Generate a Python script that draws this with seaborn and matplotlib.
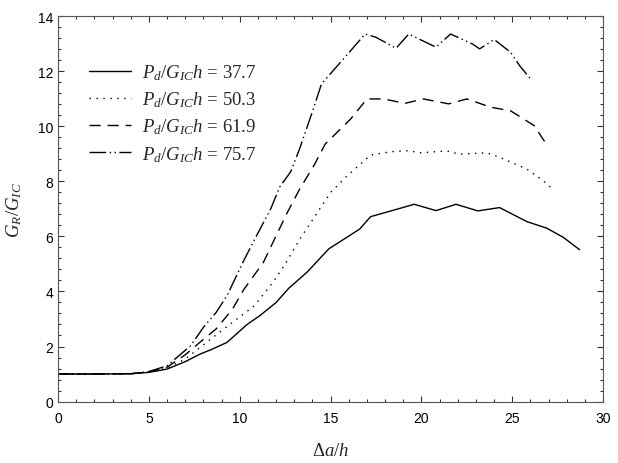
import matplotlib
matplotlib.use("Agg")
import matplotlib.pyplot as plt
import seaborn as sns
import pandas as pd
from matplotlib.ticker import MultipleLocator, AutoMinorLocator

x_377 = [0, 2, 4, 5, 6, 7, 7.8, 8.4, 9.3, 10.4, 11.1, 12.0, 12.7, 13.7, 14.9, 16.6,
         17.2, 19.6, 20.8, 21.9, 23.1, 24.3, 25.8, 26.9, 27.8, 28.7]
y_377 = [1.0, 1.0, 1.01, 1.06, 1.18, 1.45, 1.72, 1.88, 2.15, 2.8, 3.12, 3.6, 4.12, 4.7,
         5.55, 6.27, 6.72, 7.17, 6.94, 7.17, 6.93, 7.05, 6.54, 6.30, 5.97, 5.52]

x_503 = [0, 2, 4, 5, 6, 6.5, 7, 7.5, 8.4, 9.6, 10.8, 11.9, 12.5, 13.3, 14.0, 15.0,
         15.9, 17.2, 18.3, 19.3, 19.9, 21.4, 22.1, 23.6, 24.3, 25.8, 26.7, 27.3]
y_503 = [1.0, 1.0, 1.01, 1.07, 1.22, 1.38, 1.55, 1.8, 2.27, 2.88, 3.48, 4.4, 5.0, 5.9,
         6.6, 7.6, 8.2, 8.96, 9.08, 9.12, 9.04, 9.11, 8.99, 9.04, 8.88, 8.45, 8.03, 7.67]

x_619 = [0, 2, 4, 5, 6, 7, 7.8, 8.7, 9.6, 10.2, 11.3, 12.2, 12.6, 13.3, 14.1, 14.7,
         16.1, 17.0, 17.9, 19.1, 20.1, 21.5, 22.5, 23.8, 24.9, 26.2, 26.8]
y_619 = [1.0, 1.0, 1.01, 1.08, 1.25, 1.7, 2.15, 2.64, 3.36, 4.05, 5.06, 6.3, 6.85, 7.73,
         8.6, 9.36, 10.27, 11.0, 11.0, 10.84, 11.0, 10.82, 11.0, 10.7, 10.57, 10.03, 9.43]

x_757 = [0, 2, 4, 5, 6, 7.3, 8.0, 8.7, 9.3, 10.2, 10.9, 11.7, 12.2, 12.8, 13.3, 14.05,
         14.5, 15.7, 16.9, 17.5, 18.6, 19.3, 20.8, 21.6, 22.8, 23.2, 24.0, 24.9, 25.4, 26.0]
y_757 = [1.0, 1.0, 1.01, 1.09, 1.3, 2.03, 2.7, 3.24, 3.85, 5.1, 6.0, 7.0, 7.8, 8.35, 9.2,
         10.64, 11.55, 12.45, 13.36, 13.24, 12.84, 13.36, 12.88, 13.36, 13.0, 12.82, 13.16,
         12.7, 12.21, 11.73]

labels = [r"$P_d/G_{IC}h$ = 37.7", r"$P_d/G_{IC}h$ = 50.3",
          r"$P_d/G_{IC}h$ = 61.9", r"$P_d/G_{IC}h$ = 75.7"]

sns.set_style("ticks")
plt.rcParams["font.family"] = ["Liberation Sans", "DejaVu Sans"]
plt.rcParams["mathtext.fontset"] = "custom"
plt.rcParams["mathtext.rm"] = "Liberation Serif"
plt.rcParams["mathtext.it"] = "Liberation Serif:italic"

fig = plt.figure(figsize=(6.18, 4.64), dpi=100)
ax = fig.add_axes([0.094, 0.1325, 0.882, 0.83])

series = [(x_377, y_377, "-"),
          (x_503, y_503, (0, (1, 4))),
          (x_619, y_619, (0, (8, 5))),
          (x_757, y_757, (0, (12, 2.5, 1, 2.5, 1, 2.5)))]
for (xs, ys, ls), lab in zip(series, labels):
    df = pd.DataFrame({"x": xs, "y": ys})
    sns.lineplot(data=df, x="x", y="y", ax=ax, color="black", lw=1.0,
                 linestyle=ls, label=lab, sort=False)

ax.set_xlim(0, 30)
ax.set_ylim(0, 14)
ax.xaxis.set_major_locator(MultipleLocator(5))
ax.xaxis.set_minor_locator(AutoMinorLocator(5))
ax.yaxis.set_major_locator(MultipleLocator(2))
ax.yaxis.set_minor_locator(AutoMinorLocator(5))
ax.tick_params(which="both", direction="in", top=True, right=True,
               labelsize=10, colors="#333333", labelcolor="black", width=0.8)
ax.tick_params(axis="x", which="major", pad=7)
ax.tick_params(which="major", length=4)
ax.tick_params(which="minor", length=2.5)
for s in ax.spines.values():
    s.set_color("#555555")
    s.set_linewidth(0.8)

ax.set_xlabel(r"$\Delta a/h$", fontsize=13.5, labelpad=12)
ax.set_ylabel(r"$G_R/G_{IC}$", fontsize=13.5, labelpad=10)

ax.legend(loc="upper left", bbox_to_anchor=(0.04, 0.905), frameon=False,
          prop={"family": "Liberation Serif", "size": 13.5},
          handlelength=2.2, handletextpad=0.6, labelspacing=0.4, borderpad=0)

fig.savefig("out.png", dpi=100)
